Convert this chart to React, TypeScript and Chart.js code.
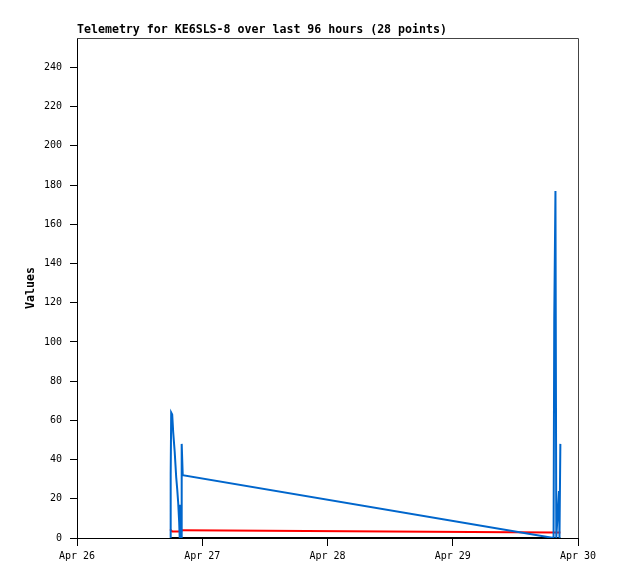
import React, { useEffect, useRef } from "react";
import { Chart, registerables } from "chart.js";

Chart.register(...registerables);

const TITLE = "Telemetry for KE6SLS-8 over last 96 hours (28 points)";
const Y_TITLE = "Values";
const X_TICK_HOURS = [0, 24, 48, 72, 96];
const X_TICK_LABELS = ["Apr 26", "Apr 27", "Apr 28", "Apr 29", "Apr 30"];
const Y_TICKS = [0, 20, 40, 60, 80, 100, 120, 140, 160, 180, 200, 220, 240];

// hours since Apr 26 00:00
const HOURS = [
  17.86, 17.95, 18.05, 18.24, 18.43, 18.72, 19.01, 19.2, 19.39, 19.58, 19.68,
  19.78, 19.97, 20.06, 20.26, 91.32, 91.45, 91.68, 91.84, 92.35, 92.45, 92.62,
];
const BLUE = [0, 32, 64, 63, 54, 44, 31, 25, 18, 8, 0, 17, 0, 48, 32, 0, 112, 177, 0, 24, 0, 48];
const RED = [4.3, 4.1, 3.8, 3.3, 3.3, 3.3, 3.3, 3.3, 3.3, 3.4, 3.6, 3.8, 3.8, 3.9, 3.9, 2.8, 2.8, 2.8, 2.8, 2.8, 2.8, 2.8];
const BLACK = [0, 0, 0, 0, 0, 0, 0, 0, 0, 0, 0, 0, 0, 0, 0, 0, 0, 0, 0, 0, 0, 0];

const MONO = "'DejaVu Sans Mono', monospace";

const toPoints = (vals: number[]) => vals.map((v, i) => ({ x: HOURS[i], y: v }));

const framePlugin = {
  id: "frameAndTitle",
  afterDraw(chart: any) {
    const { ctx, chartArea: a } = chart;
    ctx.save();
    ctx.strokeStyle = "#444";
    ctx.lineWidth = 1;
    ctx.beginPath();
    ctx.moveTo(a.left, a.top + 0.5);
    ctx.lineTo(a.right + 0.5, a.top + 0.5);
    ctx.lineTo(a.right + 0.5, a.bottom);
    ctx.stroke();
    ctx.fillStyle = "#000";
    ctx.font = `bold 11.6px ${MONO}`;
    ctx.textBaseline = "alphabetic";
    ctx.textAlign = "left";
    ctx.fillText(TITLE, a.left, 33);
    ctx.restore();
  },
};

export default function App() {
  const ref = useRef<HTMLCanvasElement>(null);
  useEffect(() => {
    if (!ref.current) return;
    const chart = new Chart(ref.current, {
      type: "line",
      data: {
        datasets: [
          { data: toPoints(BLUE), borderColor: "#0066cc", borderWidth: 2 },
          { data: toPoints(RED), borderColor: "#ff0000", borderWidth: 2 },
          { data: toPoints(BLACK), borderColor: "#000000", borderWidth: 2 },
        ],
      },
      options: {
        animation: false,
        responsive: false,
        devicePixelRatio: 1,
        layout: { padding: { top: 38, right: 40, left: 0, bottom: 0 } },
        elements: { point: { radius: 0 }, line: { tension: 0 } },
        plugins: { legend: { display: false }, tooltip: { enabled: false }, title: { display: false } },
        scales: {
          x: {
            type: "linear",
            min: 0,
            max: 96,
            afterBuildTicks: (s: any) => {
              s.ticks = X_TICK_HOURS.map((v) => ({ value: v }));
            },
            afterFit: (s: any) => {
              s.height = 41;
            },
            ticks: {
              callback: (_v: any, i: number) => X_TICK_LABELS[i],
              font: { family: MONO, size: 10 },
              color: "#000",
              padding: 4,
              maxRotation: 0,
              autoSkip: false,
            },
            grid: { drawOnChartArea: false, drawTicks: true, tickLength: 8, color: "#000" },
            border: { display: true, color: "#000", width: 1 },
          },
          y: {
            min: 0,
            max: 255,
            afterBuildTicks: (s: any) => {
              s.ticks = Y_TICKS.map((v) => ({ value: v }));
            },
            afterFit: (s: any) => {
              s.width = 77;
            },
            ticks: {
              font: { family: MONO, size: 10 },
              color: "#000",
              padding: 8,
            },
            grid: { drawOnChartArea: false, drawTicks: true, tickLength: 7, color: "#000" },
            border: { display: true, color: "#000", width: 1 },
            title: {
              display: true,
              text: Y_TITLE,
              color: "#000",
              font: { family: MONO, size: 11.6, weight: "bold" },
              padding: { top: 24, bottom: 0 },
            },
          },
        },
      },
      plugins: [framePlugin],
    });
    return () => chart.destroy();
  }, []);
  return (
    <div style={{ position: "absolute", left: 0, top: 0, width: 618, height: 579, background: "#fff" }}>
      <canvas ref={ref} width={618} height={579} style={{ display: "block" }} />
    </div>
  );
}
